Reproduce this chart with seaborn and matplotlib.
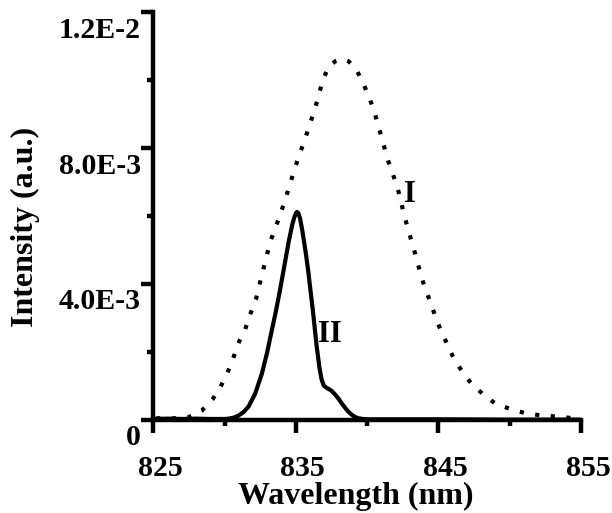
import matplotlib
matplotlib.use("Agg")
import matplotlib.pyplot as plt
import seaborn as sns
import numpy as np
import pandas as pd
from matplotlib.transforms import ScaledTranslation
from matplotlib.ticker import FixedLocator

# ---- data (intensity in units of 1E-3) ----
wl_I = [825.2, 826.4, 827.45, 828.39, 829.16, 829.72, 830.2, 830.6, 830.96, 831.43,
        831.78, 832.2, 832.7, 832.95, 833.2, 833.6, 833.95, 834.3, 834.6, 834.93,
        835.28, 835.63, 835.98, 836.33, 836.6, 836.9, 837.3, 837.8, 838.27, 838.7,
        839.2, 839.7, 840.1, 840.5, 840.77, 841.08, 841.35, 841.7, 842.06, 842.34,
        842.57, 842.87, 843.15, 843.46, 843.74, 844.04, 844.44, 844.79, 845.18, 845.65,
        846.1, 846.68, 847.33, 848.13, 849.0, 850.07, 851.1, 852.26, 853.38, 854.5]
int_I = [0.05, 0.05, 0.08, 0.27, 0.61, 0.98, 1.39, 1.81, 2.25, 2.65,
         3.09, 3.55, 4.41, 4.82, 5.24, 5.69, 6.10, 6.54, 6.96, 7.40,
         7.84, 8.25, 8.70, 9.14, 9.56, 10.0, 10.4, 10.56, 10.62, 10.55,
         10.34, 9.93, 9.53, 9.09, 8.65, 8.24, 7.77, 7.35, 6.93, 6.50,
         6.06, 5.62, 5.20, 4.76, 4.31, 3.90, 3.46, 3.04, 2.62, 2.20,
         1.79, 1.42, 1.06, 0.76, 0.48, 0.32, 0.20, 0.13, 0.10, 0.05]

wl_II = [825.0, 826.0, 827.0, 828.0, 829.0, 830.0, 830.3, 830.65, 830.98, 831.35,
         831.69, 832.15, 832.62, 832.97, 833.32, 833.6, 833.9, 834.2, 834.5, 834.75,
         834.9, 835.0, 835.08, 835.18, 835.3, 835.45, 835.7, 835.86, 836.0, 836.2,
         836.45, 836.65, 836.8, 836.95, 837.1, 837.27, 837.5, 837.73, 837.95, 838.2,
         838.45, 838.67, 838.9, 839.15, 839.4, 839.7, 840.07, 842.0, 845.0, 850.0, 855.0]
int_II = [0.03, 0.04, 0.03, 0.04, 0.03, 0.03, 0.04, 0.07, 0.13, 0.24,
          0.40, 0.78, 1.37, 1.96, 2.65, 3.20, 3.85, 4.55, 5.25, 5.75,
          5.97, 6.08, 6.12, 6.08, 5.92, 5.58, 4.90, 4.41, 3.90, 3.20,
          2.20, 1.55, 1.20, 1.02, 0.96, 0.92, 0.86, 0.76, 0.65, 0.50,
          0.36, 0.25, 0.16, 0.09, 0.05, 0.03, 0.02, 0.02, 0.02, 0.01, 0.01]

x_ticks = [825, 835, 845, 855]
x_ticklabels = ["825", "835", "845", "855"]
y_ticks = [0, 0.004, 0.008, 0.012]
y_ticklabels = ["0", "4.0E-3", "8.0E-3", "1.2E-2"]
x_minor = [830, 840, 850]
y_minor = [0.002, 0.006, 0.010]

df_I = pd.DataFrame({"wl": wl_I, "val": np.array(int_I) * 1e-3})
df_II = pd.DataFrame({"wl": wl_II, "val": np.array(int_II) * 1e-3})

sns.set_theme(style="ticks")
plt.rcParams["font.family"] = ["Liberation Serif", "DejaVu Serif"]
plt.rcParams["font.weight"] = "bold"
plt.rcParams["axes.labelweight"] = "bold"
plt.rcParams["text.color"] = "black"

fig = plt.figure(figsize=(6.12, 5.13), dpi=100)
ax = fig.add_axes([0.2505, 0.1813, 0.6988, 0.7953])

sns.lineplot(data=df_I, x="wl", y="val", ax=ax, color="black", lw=3,
             linestyle=(0, (1, 2.75)), estimator=None, sort=False)
sns.lineplot(data=df_II, x="wl", y="val", ax=ax, color="black", lw=3,
             estimator=None, sort=False, solid_joinstyle="round")

ax.set_xlim(825, 855)
ax.set_ylim(0, 0.012)

ax.set_xticks(x_ticks)
ax.set_xticklabels(x_ticklabels)
ax.set_yticks(y_ticks)
ax.set_yticklabels(y_ticklabels)
ax.xaxis.set_minor_locator(FixedLocator(x_minor))
ax.yaxis.set_minor_locator(FixedLocator(y_minor))

for s in ["top", "right"]:
    ax.spines[s].set_visible(False)
for s in ["left", "bottom"]:
    ax.spines[s].set_linewidth(3.2)
    ax.spines[s].set_color("black")

ax.tick_params(axis="both", which="major", direction="out", length=9, width=3.2,
               color="black", labelsize=21.5, labelcolor="black")
ax.tick_params(axis="both", which="minor", direction="out", length=4.5, width=3.2,
               color="black")
ax.tick_params(axis="x", which="major", pad=16)
ax.tick_params(axis="y", which="major", pad=0)

for lab in ax.get_xticklabels():
    lab.set_fontweight("bold")
    lab.set_transform(lab.get_transform() + ScaledTranslation(7 / 100, 0, fig.dpi_scale_trans))
for lab in ax.get_yticklabels():
    lab.set_fontweight("bold")
    lab.set_transform(lab.get_transform() + ScaledTranslation(0, -15 / 100, fig.dpi_scale_trans))

ax.set_xlabel("Wavelength (nm)", fontsize=23, fontweight="bold", color="black", va="center")
ax.set_ylabel("Intensity (a.u.)", fontsize=23, fontweight="bold", color="black", va="center")
ax.xaxis.set_label_coords(0.474, -0.187)
ax.yaxis.set_label_coords(-0.298, 0.473)

ax.text(843.0, 0.00663, "I", fontsize=22, fontweight="bold", ha="center", va="center",
        color="black")
ax.text(837.37, 0.0025, "II", fontsize=22, fontweight="bold", ha="center", va="center",
        color="black")

ax.set_facecolor("white")
fig.patch.set_facecolor("white")
fig.savefig("out.png", dpi=100)
